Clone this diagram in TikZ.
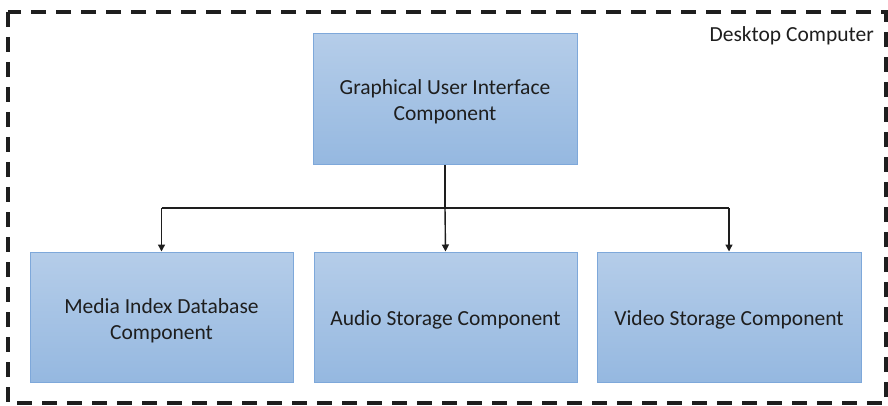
\documentclass[tikz,border=0pt]{standalone}
\usepackage{fontspec}
\setmainfont{Carlito}
\usetikzlibrary{arrows.meta}
\definecolor{boxtop}{HTML}{B5CDE9}
\definecolor{boxbot}{HTML}{95B8E0}
\definecolor{boxline}{HTML}{7EA8DA}
\definecolor{ink}{HTML}{1E1E1E}
\tikzset{
  comp/.style={draw=boxline, line width=1pt, top color=boxtop, bottom color=boxbot, inner sep=0pt},
  lbl/.style={text=ink, align=center, font=\fontsize{21.5}{26}\selectfont, inner sep=0pt},
  trunk/.style={draw=ink, line width=2.2pt},
  bus/.style={draw=ink, line width=1.4pt},
  branch/.style={bus, -{Triangle[width=7pt,length=7pt]}},
  frame/.style={draw=ink, line width=3.6pt, dash pattern=on 15pt off 10pt},
}
\begin{document}
\begin{tikzpicture}[x=1pt,y=-1pt]
  \useasboundingbox (0,0) rectangle (888,406);
  % outer dashed enclosure
  \draw[frame] (8,12) rectangle (886,403);
  \node[lbl, anchor=east] (host) at (874,36) {Desktop Computer};
  % components
  \node[comp, minimum width=264pt, minimum height=131pt] (gui) at (445,99.5) {};
  \node[comp, minimum width=263pt, minimum height=130pt] (mid) at (161.5,317) {};
  \node[comp, minimum width=263pt, minimum height=130pt] (aud) at (445.5,317) {};
  \node[comp, minimum width=264pt, minimum height=130pt] (vid) at (729,317) {};
  % component captions
  \node[lbl] (gui-t) at ([yshift=-2.5pt]gui.center) {Graphical User Interface\\Component};
  \node[lbl] (mid-t) at ([yshift=-3.5pt]mid.center) {Media Index Database\\Component};
  \node[lbl] (aud-t) at ([yshift=-3pt]aud.center) {Audio Storage Component};
  \node[lbl] (vid-t) at ([yshift=-3pt]vid.center) {Video Storage Component};
  % junction of the bus
  \coordinate (j) at (445,208);
  \draw[trunk] (gui.south) -- (j);
  \draw[bus] (j -| mid.north) -- (j -| vid.north);
  \draw[branch] (j -| mid.north) -- (mid.north);
  \draw[branch] (j) -- (aud.north);
  \draw[branch] (j -| vid.north) -- (vid.north);
\end{tikzpicture}
\end{document}
